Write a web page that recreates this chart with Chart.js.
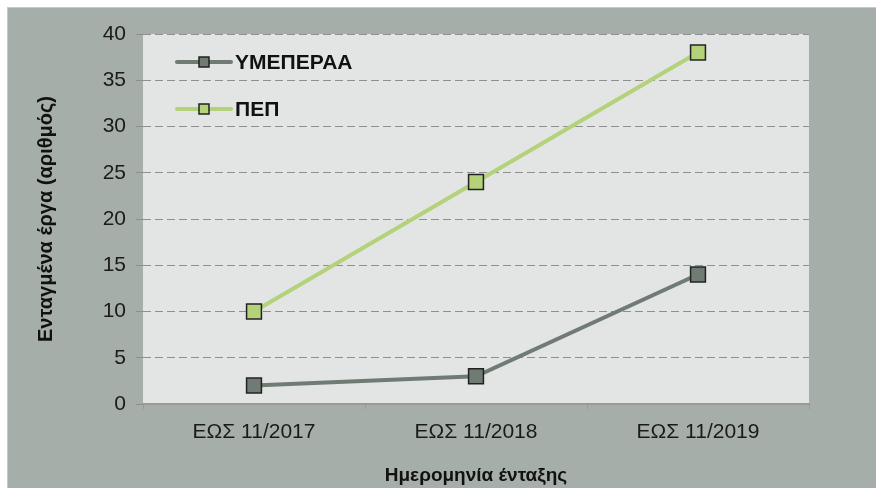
<!DOCTYPE html>
<html>
<head>
<meta charset="utf-8">
<script src="https://cdn.jsdelivr.net/npm/chart.js@4"></script>
<style>
  html, body { margin: 0; padding: 0; background: #ffffff; }
  .frame {
    position: absolute; left: 7px; top: 7px; width: 869px; height: 481px;
    border-left: 1px solid #c8c8c8; border-top: 1px solid #c8c8c8;
    background: #a6aea9;
  }
  .frame canvas { display: block; }
</style>
</head>
<body>
<div class="frame"><canvas id="chart" width="869" height="481"></canvas></div>
<script>
// chart data
const categories = ["ΕΩΣ 11/2017", "ΕΩΣ 11/2018", "ΕΩΣ 11/2019"];
const seriesNames = ["ΥΜΕΠΕΡΑΑ", "ΠΕΠ"];
const ymeperaa = [2, 3, 14];
const pep = [10, 24, 38];
const yTicks = [0, 5, 10, 15, 20, 25, 30, 35, 40];

const darkColor = "#6f7b73";
const lightColor = "#b3d27a";
const fontFamily = "'Liberation Sans', Arial, sans-serif";

// grey plot background behind the chart area
const plotBackground = {
  id: "plotBackground",
  beforeDraw(chart) {
    const { ctx, chartArea } = chart;
    ctx.save();
    ctx.fillStyle = "#e3e4e4";
    ctx.fillRect(chartArea.left, chartArea.top,
      chartArea.right - chartArea.left, chartArea.bottom - chartArea.top);
    ctx.restore();
  },
};

// legend drawn inside the plot, top left
const insideLegend = {
  id: "insideLegend",
  afterDatasetsDraw(chart) {
    const { ctx, chartArea } = chart;
    ctx.save();
    chart.data.datasets.forEach((ds, i) => {
      const x0 = chartArea.left + 34;
      const y = chartArea.top + 28 + i * 47;
      ctx.strokeStyle = ds.borderColor;
      ctx.lineWidth = 4;
      ctx.lineCap = "round";
      ctx.beginPath();
      ctx.moveTo(x0, y);
      ctx.lineTo(x0 + 54, y);
      ctx.stroke();
      ctx.fillStyle = ds.pointBackgroundColor;
      ctx.strokeStyle = "#222";
      ctx.lineWidth = 1.5;
      ctx.fillRect(x0 + 22, y - 5, 10, 10);
      ctx.strokeRect(x0 + 22, y - 5, 10, 10);
      ctx.fillStyle = "#111";
      ctx.font = "bold 21px " + fontFamily;
      ctx.textBaseline = "middle";
      ctx.fillText(ds.label, x0 + 58, y + 1);
    });
    ctx.restore();
  },
};

new Chart(document.getElementById("chart"), {
  type: "line",
  data: {
    labels: categories,
    datasets: [
      {
        label: seriesNames[0],
        data: ymeperaa,
        borderColor: darkColor,
        backgroundColor: darkColor,
        pointBackgroundColor: darkColor,
        pointBorderColor: "#222",
        pointBorderWidth: 1.5,
        pointStyle: "rect",
        pointRadius: 10.5,
        borderWidth: 4,
      },
      {
        label: seriesNames[1],
        data: pep,
        borderColor: lightColor,
        backgroundColor: lightColor,
        pointBackgroundColor: lightColor,
        pointBorderColor: "#222",
        pointBorderWidth: 1.5,
        pointStyle: "rect",
        pointRadius: 10.5,
        borderWidth: 4,
      },
    ],
  },
  options: {
    responsive: false,
    animation: false,
    layout: { padding: { left: 0, top: 26, right: 68, bottom: 0 } },
    plugins: { legend: { display: false }, tooltip: { enabled: false } },
    scales: {
      x: {
        offset: true,
        grid: {
          offset: true,
          drawOnChartArea: false,
          drawTicks: true,
          tickLength: 5,
          color: "#999",
        },
        border: { display: true, color: "#999", width: 2 },
        ticks: {
          padding: 11,
          color: "#1a1a1a",
          font: { family: fontFamily, size: 21 },
        },
        title: {
          display: true,
          text: "Ημερομηνία ένταξης",
          color: "#111",
          font: { family: fontFamily, size: 19, weight: "bold" },
          padding: { top: 0, bottom: 2 },
        },
        afterFit(scale) {
          scale.height = 85;
        },
      },
      y: {
        min: 0,
        max: 40,
        afterBuildTicks(scale) {
          scale.ticks = yTicks.map((v) => ({ value: v }));
        },
        grid: {
          color: "#8f8f8f",
          lineWidth: 1,
          tickLength: 7,
          tickBorderDash: [],
        },
        border: { display: false, dash: [8, 4] },
        ticks: {
          padding: 10,
          color: "#1a1a1a",
          font: { family: fontFamily, size: 21 },
        },
        title: {
          display: true,
          text: "Ενταγμένα έργα (αριθμός)",
          color: "#111",
          font: { family: fontFamily, size: 20, weight: "bold" },
          padding: { top: 26, bottom: 0 },
        },
        afterFit(scale) {
          scale.width = 135;
        },
      },
    },
  },
  plugins: [plotBackground, insideLegend],
});
</script>
</body>
</html>
